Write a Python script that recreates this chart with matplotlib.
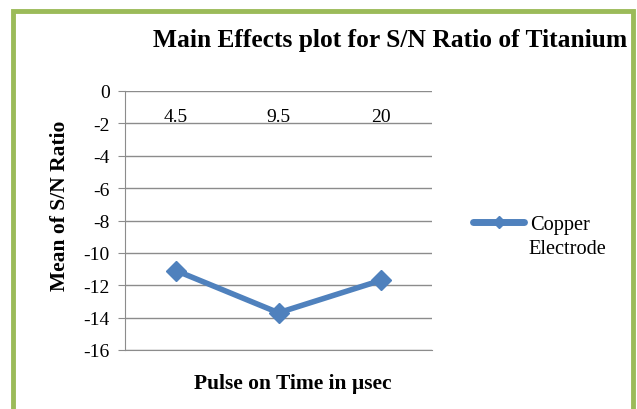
import matplotlib
matplotlib.use("Agg")
from matplotlib import pyplot as plt
from matplotlib.patches import Rectangle

# data
categories = ["4.5", "9.5", "20"]
copper = [-11.1, -13.7, -11.7]
yticks = [0, -2, -4, -6, -8, -10, -12, -14, -16]

plt.rcParams['font.family'] = ['Liberation Serif', 'DejaVu Serif']

fig = plt.figure(figsize=(6.37, 4.10), dpi=100)
# green chart frame (bottom edge runs off the picture)
fig.patches.append(Rectangle((13/637, -0.05), (633-13)/637, 1.05 - 12/410,
                             transform=fig.transFigure, fill=False,
                             edgecolor="#9BBB59", linewidth=3.5))

ax = fig.add_axes([125/637, 1-351/410, (432-125)/637, (351-92)/410])
x = range(len(categories))
ax.plot(x, copper, color="#4F81BD", linewidth=4, marker="D", markersize=10,
        label="Copper", solid_capstyle="round")
ax.set_xlim(-0.5, len(categories)-0.5)
ax.set_ylim(-16, 0)
ax.set_yticks(yticks)
ax.set_yticklabels([str(t) for t in yticks], fontsize=14)
ax.yaxis.grid(True, color="#8C8C8C", linewidth=1)
ax.set_axisbelow(True)
for s in ["top", "right"]:
    ax.spines[s].set_visible(False)
for s in ["bottom", "left"]:
    ax.spines[s].set_color("#8C8C8C")
ax.tick_params(axis="y", length=5, color="#8C8C8C", pad=6)
ax.tick_params(axis="x", length=0)
ax.set_xticks([])
for i, c in enumerate(categories):
    ax.text(i, -1.6, c, ha="center", va="center", fontsize=14)

fig.text(390/637, 1-41/410, "Main Effects plot for S/N Ratio of Titanium",
         ha="center", va="center", fontsize=18.4, fontweight="bold")
fig.text(293/637, 1-384/410, "Pulse on Time in \u00b5sec", ha="center",
         va="center", fontsize=15.5, fontweight="bold")
fig.text(60/637, 1-206/410, "Mean of S/N Ratio", ha="center", va="center",
         rotation=90, fontsize=15.5, fontweight="bold")

leg = fig.legend(loc="center left", bbox_to_anchor=(455/637, 1-225/410),
                 frameon=False, fontsize=14.7, handlelength=2.5,
                 handletextpad=0.3, markerscale=0.6)
leg.get_lines()[0].set_linewidth(5)
fig.text(528/637, 1-250/410, "Electrode", ha="left", va="center",
         fontsize=14.7)

fig.savefig("out.png", dpi=100)
